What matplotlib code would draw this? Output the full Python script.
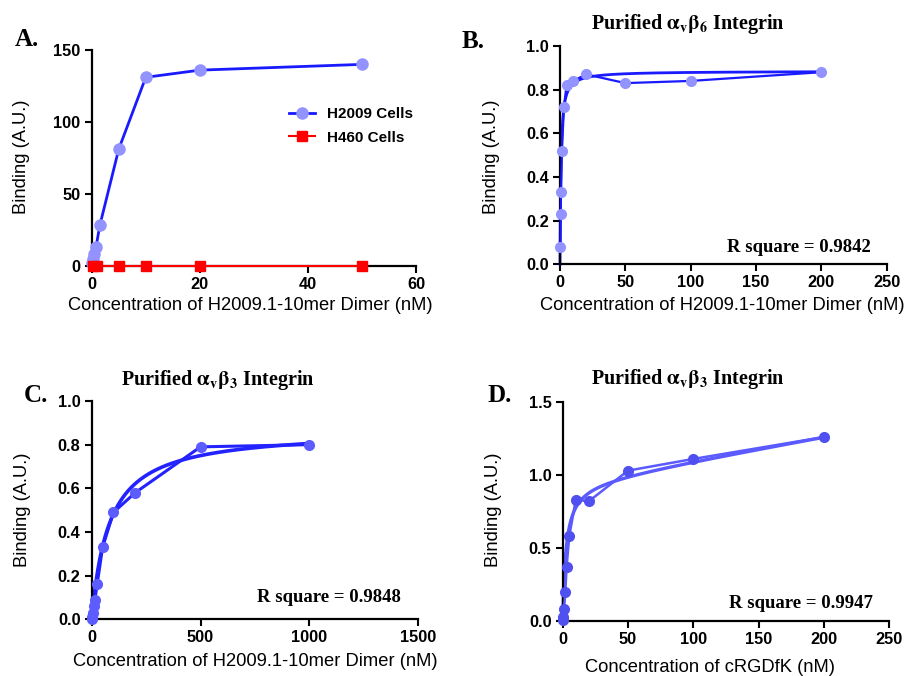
import numpy as np
import matplotlib
matplotlib.use("Agg")
import matplotlib.pyplot as plt

plt.rcParams['font.family'] = ['Liberation Sans', 'DejaVu Sans']
plt.rcParams['mathtext.fontset'] = 'stix'

# ---------------- data ----------------
# Panel A
a_h2009_x = [0.1, 0.2, 0.4, 0.8, 1.5, 5, 10, 20, 50]
a_h2009_y = [2, 5, 8, 13, 28, 81, 131, 136, 140]
a_h460_x = [0.3, 1, 5, 10, 20, 50]
a_h460_y = [0, 0, 0, 0, 0, 0]

# Panel B (alpha_v beta_6)
b_x = [0.3, 0.5, 0.8, 1.5, 3, 5, 10, 20, 50, 100, 200]
b_y = [0.08, 0.23, 0.33, 0.52, 0.72, 0.82, 0.84, 0.87, 0.83, 0.84, 0.88]
b_bmax, b_kd = 0.885, 0.7
b_r2 = "R square = 0.9842"

# Panel C (alpha_v beta_3, dimer)
c_x = [0, 2, 5, 10, 15, 25, 50, 100, 200, 500, 1000]
c_y = [0.0, 0.01, 0.03, 0.06, 0.09, 0.16, 0.33, 0.49, 0.58, 0.79, 0.80]
c_bmax, c_kd = 0.87, 80
c_r2 = "R square = 0.9848"

# Panel D (alpha_v beta_3, cRGDfK)
d_x = [0, 0.5, 1, 2, 3, 5, 10, 20, 50, 100, 200]
d_y = [0.01, 0.03, 0.08, 0.20, 0.37, 0.58, 0.83, 0.82, 1.03, 1.11, 1.26]
d_bmax, d_kd, d_ns = 0.95, 2.5, 0.0016
d_r2 = "R square = 0.9947"

xlabel_dimer = "Concentration of H2009.1-10mer Dimer (nM)"
xlabel_rgd = "Concentration of cRGDfK (nM)"
ylabel = "Binding (A.U.)"

# ---------------- figure ----------------
W, H = 909, 676
fig = plt.figure(figsize=(W / 100, H / 100), dpi=100)


def px_axes(left, right, top, bottom):
    return fig.add_axes([left / W, 1 - bottom / H, (right - left) / W, (bottom - top) / H])


def style(ax):
    for s in ['top', 'right']:
        ax.spines[s].set_visible(False)
    for s in ['left', 'bottom']:
        ax.spines[s].set_linewidth(1.6)
    ax.tick_params(direction='out', length=5, width=1.5, labelsize=11.8, pad=3)
    for lab in ax.get_xticklabels() + ax.get_yticklabels():
        lab.set_fontweight('bold')


serif = ['Liberation Serif', 'DejaVu Serif']
LABEL_FS = 13.2

# Panel A
axA = px_axes(91.7, 416, 50, 265.7)
axA.plot(a_h2009_x, a_h2009_y, color='#1a1aff', lw=2.0, marker='o', ms=8,
         mfc='#9393ff', mec='#9393ff', label='H2009 Cells', clip_on=False, zorder=3)
axA.plot(a_h460_x, a_h460_y, color='#ff0000', lw=1.5, marker='s', ms=7,
         mfc='#ff0000', mec='#ff0000', label='H460 Cells', clip_on=False, zorder=4)
axA.set_xlim(0, 60)
axA.set_ylim(0, 150)
axA.set_xticks([0, 20, 40, 60])
axA.set_yticks([0, 50, 100, 150])
style(axA)
leg = axA.legend(loc='upper left', bbox_to_anchor=(0.565, 0.80), frameon=False,
                 prop={'weight': 'bold', 'size': 11}, handlelength=1.7,
                 labelspacing=0.65, handletextpad=0.8)

# Panel B
axB = px_axes(560, 886.7, 46, 264.3)
xf = np.linspace(0, max(b_x), 600)
axB.plot(xf, b_bmax * xf / (b_kd + xf), color='#1a1aff', lw=2.0, zorder=2, clip_on=False)
axB.plot(b_x, b_y, color='#1a1aff', lw=1.6, marker='o', ms=7,
         mfc='#9393ff', mec='#9393ff', clip_on=False, zorder=3)
axB.set_xlim(0, 250)
axB.set_ylim(0, 1.0)
axB.set_xticks([0, 50, 100, 150, 200, 250])
axB.set_yticks([0, 0.2, 0.4, 0.6, 0.8, 1.0])
axB.yaxis.set_major_formatter(matplotlib.ticker.FormatStrFormatter('%.1f'))
style(axB)

# Panel C
axC = px_axes(91.7, 418.3, 401, 619.3)
xf = np.linspace(0, max(c_x), 600)
axC.plot(xf, c_bmax * xf / (c_kd + xf), color='#2323ff', lw=2.6, zorder=2, clip_on=False)
axC.plot(c_x, c_y, color='#2323ff', lw=2.2, marker='o', ms=7,
         mfc='#5c5cff', mec='#5c5cff', clip_on=False, zorder=3)
axC.set_xlim(0, 1500)
axC.set_ylim(0, 1.0)
axC.set_xticks([0, 500, 1000, 1500])
axC.set_yticks([0, 0.2, 0.4, 0.6, 0.8, 1.0])
axC.yaxis.set_major_formatter(matplotlib.ticker.FormatStrFormatter('%.1f'))
style(axC)

# Panel D
axD = px_axes(562.7, 889.3, 402, 621)
xf = np.linspace(0, max(d_x), 800)
axD.plot(xf, d_bmax * xf / (d_kd + xf) + d_ns * xf, color='#5a5aff', lw=2.4, zorder=2, clip_on=False)
axD.plot(d_x, d_y, color='#5a5aff', lw=1.8, marker='o', ms=7,
         mfc='#5050f0', mec='#5050f0', clip_on=False, zorder=3)
axD.set_xlim(0, 250)
axD.set_ylim(0, 1.5)
axD.set_xticks([0, 50, 100, 150, 200, 250])
axD.set_yticks([0, 0.5, 1.0, 1.5])
axD.yaxis.set_major_formatter(matplotlib.ticker.FormatStrFormatter('%.1f'))
style(axD)


def ftext(x, y, s, **kw):
    fig.text(x / W, 1 - y / H, s, **kw)


# axis labels
for (x, y) in [(22, 157), (491, 157), (23, 510), (493, 510)]:
    ftext(x, y, ylabel, rotation=90, ha='center', va='center', fontsize=LABEL_FS)
ftext(250, 306, xlabel_dimer, ha='center', va='center', fontsize=LABEL_FS)
ftext(722, 306, xlabel_dimer, ha='center', va='center', fontsize=LABEL_FS)
ftext(255, 662, xlabel_dimer, ha='center', va='center', fontsize=LABEL_FS)
ftext(710, 667, xlabel_rgd, ha='center', va='center', fontsize=LABEL_FS)

# panel letters
for (x, y, s) in [(27, 40, 'A.'), (473, 42, 'B.'), (36, 396, 'C.'), (500, 396, 'D.')]:
    ftext(x, y, s, ha='center', va='center', fontsize=18, fontweight='bold', family=serif)

# titles
ftext(688, 24, r'Purified $\mathbf{\alpha_{v}\beta_{6}}$ Integrin', ha='center', va='center',
      fontsize=14.5, fontweight='bold', family=serif)
ftext(218, 380, r'Purified $\mathbf{\alpha_{v}\beta_{3}}$ Integrin', ha='center', va='center',
      fontsize=14.5, fontweight='bold', family=serif)
ftext(688, 379, r'Purified $\mathbf{\alpha_{v}\beta_{3}}$ Integrin', ha='center', va='center',
      fontsize=14.5, fontweight='bold', family=serif)

# R square texts
ftext(871, 247, b_r2, ha='right', va='center', fontsize=13.5, fontweight='bold', family=serif)
ftext(401, 598, c_r2, ha='right', va='center', fontsize=13.5, fontweight='bold', family=serif)
ftext(873, 604, d_r2, ha='right', va='center', fontsize=13.5, fontweight='bold', family=serif)

fig.savefig('out.png', dpi=100, facecolor='white')
